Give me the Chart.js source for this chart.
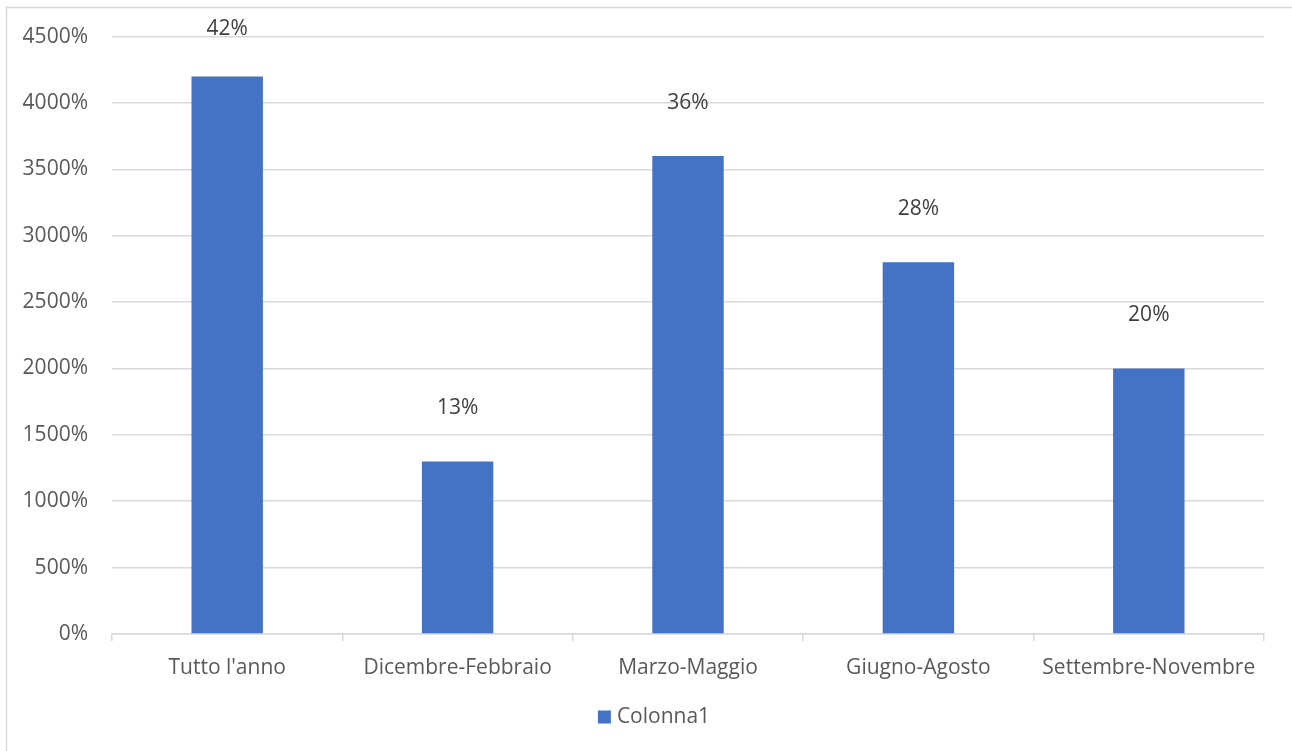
<!DOCTYPE html>
<html>
<head>
<meta charset="utf-8">
<script src="https://cdn.jsdelivr.net/npm/chart.js@4"></script>
<style>
  html, body { margin: 0; padding: 0; background: #fff; }
  #wrap { width: 1292px; height: 751px; position: relative; }
</style>
</head>
<body>
<div id="wrap"><canvas id="chart" width="1292" height="751"></canvas></div>
<script>
// ==== Dati ====
const categories = ["Tutto l'anno", "Dicembre-Febbraio", "Marzo-Maggio", "Giugno-Agosto", "Settembre-Novembre"];
const values = [4200, 1300, 3600, 2800, 2000];
const dataLabels = ["42%", "13%", "36%", "28%", "20%"];
const seriesName = "Colonna1";
const yMax = 4500;
const yStep = 500;

const FONT = "'Open Sans', sans-serif";
const TEXT = "#595959";
const GRID = "#d9d9d9";
const BLUE = "#4472c4";

// bordo esterno (solo sopra e a sinistra visibili)
const frame = {
  id: "frame",
  beforeDraw(chart) {
    const c = chart.ctx;
    c.save();
    c.strokeStyle = GRID;
    c.lineWidth = 1.5;
    c.strokeRect(6.5, 7.5, 1300, 760);
    c.restore();
  }
};

// etichette sopra le barre
const barLabels = {
  id: "barLabels",
  afterDatasetsDraw(chart) {
    const c = chart.ctx;
    const meta = chart.getDatasetMeta(0);
    c.save();
    c.font = "21px " + FONT;
    c.fillStyle = "#404040";
    c.textAlign = "center";
    c.textBaseline = "middle";
    meta.data.forEach((bar, i) => {
      const y = Math.max(bar.y - 53, 29);
      c.fillText(dataLabels[i], bar.x, y);
    });
    c.restore();
  }
};

// legenda in basso, centrata come in Excel
const bottomLegend = {
  id: "bottomLegend",
  afterDraw(chart) {
    const c = chart.ctx;
    const ds = chart.data.datasets[0];
    c.save();
    c.font = "21px " + FONT;
    const tw = c.measureText(ds.label).width;
    const box = 13, gap = 6;
    const total = box + gap + tw;
    const x0 = 654 - total / 2;
    const yMid = 717;
    c.fillStyle = ds.backgroundColor;
    c.fillRect(x0, yMid - box / 2, box, box);
    c.fillStyle = TEXT;
    c.textAlign = "left";
    c.textBaseline = "middle";
    c.fillText(ds.label, x0 + box + gap, yMid);
    c.restore();
  }
};

new Chart(document.getElementById("chart"), {
  type: "bar",
  data: {
    labels: categories,
    datasets: [{
      label: seriesName,
      data: values,
      backgroundColor: BLUE,
      borderWidth: 0,
      categoryPercentage: 1,
      barPercentage: 0.31
    }]
  },
  options: {
    responsive: false,
    animation: false,
    layout: { padding: { top: 32, right: 28, left: 0, bottom: 0 } },
    plugins: {
      legend: { display: false },
      tooltip: { enabled: false }
    },
    scales: {
      y: {
        min: 0, max: yMax,
        ticks: {
          stepSize: yStep,
          color: TEXT,
          font: { family: FONT, size: 21 },
          padding: 24,
          callback: v => v + "%"
        },
        grid: { color: GRID, lineWidth: 1.5, drawTicks: false },
        border: { display: false },
        afterFit: s => { s.width = 112; }
      },
      x: {
        ticks: {
          color: TEXT,
          font: { family: FONT, size: 21 },
          padding: 14,
          maxRotation: 0
        },
        grid: { color: GRID, lineWidth: 1.5, drawOnChartArea: false, tickLength: 7, offset: true },
        border: { color: GRID, width: 1.5 },
        afterFit: s => { s.height = 117; }
      }
    }
  },
  plugins: [frame, barLabels, bottomLegend]
});
</script>
</body>
</html>
